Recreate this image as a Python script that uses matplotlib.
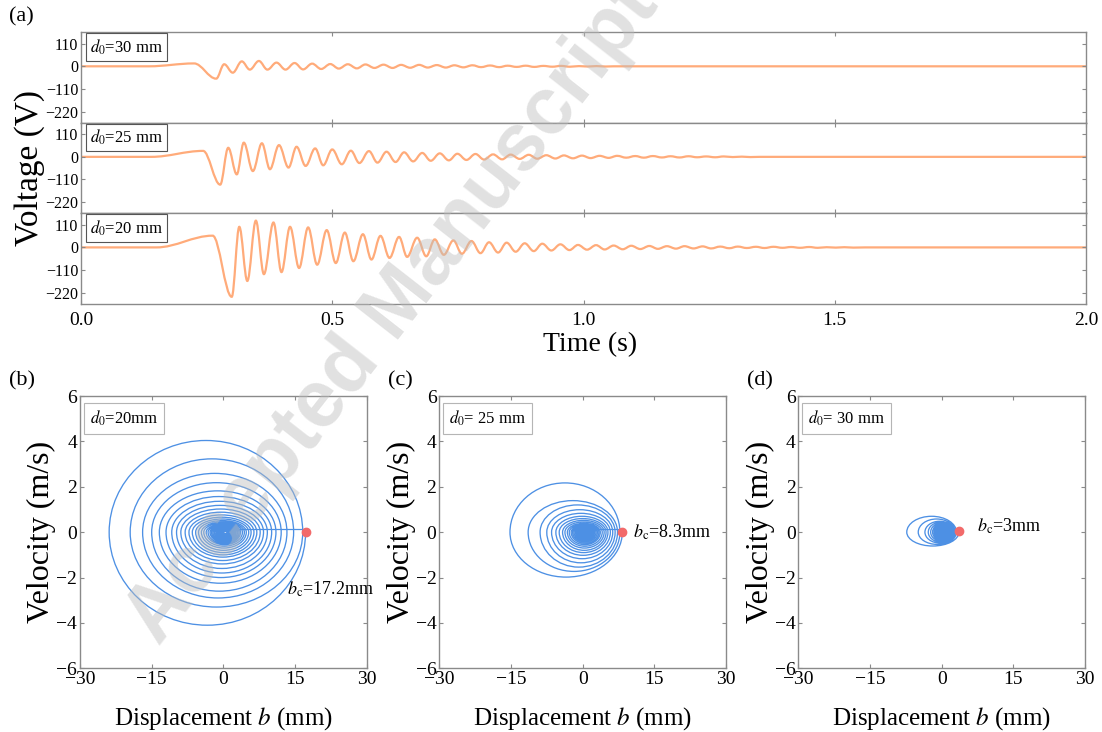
import matplotlib
matplotlib.use('Agg')
import matplotlib.pyplot as plt
from matplotlib.path import Path
from matplotlib.patches import PathPatch

plt.rcParams['font.family'] = 'Liberation Serif'
plt.rcParams['mathtext.fontset'] = 'stix'

# ---- (a) voltage extrema: time (s), voltage (V) ----
t30 = [0.0, 0.135, 0.225, 0.269, 0.285, 0.302, 0.320, 0.336, 0.354, 0.371, 0.389, 0.407,
       0.425, 0.442, 0.460, 0.478, 0.496, 0.513, 0.531, 0.549, 0.566, 0.584, 0.602, 0.620,
       0.637, 0.655, 0.673, 0.690, 0.708, 0.726, 0.743, 0.761, 0.779, 0.796, 0.814, 0.832,
       0.849, 0.867, 0.885, 0.902, 0.920, 0.938, 0.955, 0.973, 0.991, 1.008, 1.026, 1.044,
       1.060, 2.0]
v30 = [0, 0, 14, -60, 10, -31, 24, -16, 26, -16, 18, -16,
       16, -15, 13, -13, 11, -11, 10, -10, 9, -8, 8, -8,
       7, -7, 7, -6, 6, -6, 5, -5, 5, -4, 4, -4,
       3, -3, 3, -3, 2, -2, 2, -2, 1, -1, 1, -1,
       0, 0]

t25 = [0.0, 0.140, 0.243, 0.277, 0.293, 0.310, 0.324, 0.342, 0.360, 0.376, 0.394, 0.413,
       0.429, 0.447, 0.466, 0.482, 0.500, 0.519, 0.537, 0.554, 0.573, 0.590, 0.608, 0.626,
       0.643, 0.661, 0.679, 0.696, 0.714, 0.732, 0.749, 0.767, 0.785, 0.802, 0.820, 0.838,
       0.855, 0.873, 0.891, 0.908, 0.926, 0.944, 0.961, 0.979, 0.997, 1.014, 1.032, 1.050,
       1.067, 1.085, 1.103, 1.120, 1.138, 1.156, 1.173, 1.191, 1.209, 1.226, 1.244, 1.262,
       1.279, 1.297, 1.315, 1.332, 1.350, 2.0]
v25 = [0, 0, 29, -135, 44, -85, 69, -69, 66, -60, 57, -52,
       49, -44, 41, -41, 36, -36, 30, -30, 28, -28, 25, -25,
       22, -22, 19, -19, 17, -17, 15, -15, 14, -13, 12, -12,
       11, -10, 10, -9, 8, -8, 7, -7, 6, -6, 5, -5,
       5, -4, 4, -4, 4, -3, 3, -3, 3, -2, 2, -2,
       2, -1, 1, -1, 0, 0]

t20 = [0.0, 0.150, 0.262, 0.300, 0.315, 0.331, 0.348, 0.364, 0.383, 0.399, 0.416, 0.434,
       0.452, 0.470, 0.489, 0.507, 0.525, 0.542, 0.561, 0.578, 0.596, 0.614, 0.633, 0.649,
       0.669, 0.687, 0.704, 0.722, 0.741, 0.758, 0.777, 0.795, 0.812, 0.830, 0.847, 0.865,
       0.883, 0.901, 0.918, 0.936, 0.954, 0.972, 0.989, 1.007, 1.025, 1.042, 1.060, 1.078,
       1.095, 1.113, 1.131, 1.148, 1.166, 1.184, 1.201, 1.219, 1.237, 1.254, 1.272, 1.290,
       1.307, 1.325, 1.343, 1.360, 1.378, 1.396, 1.413, 1.431, 1.449, 1.466, 1.484, 1.502,
       1.519, 1.537, 1.560, 2.0]
v20 = [0, 0, 57, -240, 100, -163, 130, -130, 121, -120, 100, -100,
       97, -84, 84, -76, 72, -67, 64, -59, 56, -51, 51, -46,
       47, -43, 39, -36, 34, -31, 31, -28, 25, -25, 23, -21,
       20, -18, 18, -15, 15, -13, 12, -11, 11, -10, 9, -9,
       8, -8, 7, -7, 6, -6, 6, -5, 5, -5, 4, -4,
       4, -3, 3, -3, 3, -2, 2, -2, 2, -2, 1, -1,
       1, -1, 0, 0]

wave_labels = ['$d_0$=30 mm', '$d_0$=25 mm', '$d_0$=20 mm']
volt_ticks = [110, 0, -110, -220]
time_ticks = [0.0, 0.5, 1.0, 1.5, 2.0]

# ---- (b)-(d) phase portraits: turning points of each loop ----
# R: right turning points b (mm), B: lowest velocity, L: left turning point, T: top velocity
R20 = [17.2, 16.6, 14.7, 13.3, 12.1, 11.0, 10.1, 9.2, 8.4, 7.7, 7.0, 6.4, 5.8, 5.3, 4.8,
       4.4, 4.0, 3.6, 3.3, 3.0, 2.7, 2.5, 2.3, 2.1, 1.9, 1.8, 1.6, 1.5, 1.3, 1.1, 0.9, 0.8]
B20 = [-4.1, -3.3, -2.9, -2.6, -2.25, -2.0, -1.8, -1.6, -1.4, -1.25, -1.1, -1.0, -0.9, -0.8,
       -0.7, -0.62, -0.55, -0.5, -0.45, -0.4, -0.36, -0.32, -0.29, -0.26, -0.23, -0.2, -0.18,
       -0.15, -0.12, -0.09, -0.06]
L20 = [-23.9, -19.5, -16.9, -15.0, -13.4, -12.0, -10.8, -9.8, -8.9, -8.0, -7.2, -6.5, -5.8,
       -5.2, -4.6, -4.1, -3.6, -3.2, -2.8, -2.5, -2.2, -1.9, -1.6, -1.4, -1.2, -1.0, -0.8,
       -0.6, -0.4, -0.2, 0.0]
T20 = [4.04, 3.23, 2.59, 2.18, 1.82, 1.57, 1.36, 1.18, 1.02, 0.88, 0.76, 0.66, 0.58, 0.51,
       0.45, 0.40, 0.35, 0.31, 0.28, 0.25, 0.22, 0.2, 0.18, 0.16, 0.14, 0.12, 0.1,
       0.08, 0.06, 0.04, 0.03]

R25 = [8.3, 7.8, 7.3, 6.8, 6.3, 5.8, 5.3, 4.9, 4.5, 4.1, 3.7, 3.4, 3.1, 2.8, 2.5, 2.3,
       2.1, 1.9, 1.7, 1.5, 1.3, 1.2, 1.1, 1.0, 0.9, 0.8, 0.7, 0.6]
B25 = [-1.98, -1.73, -1.54, -1.35, -1.17, -1.02, -0.9, -0.8, -0.7, -0.62, -0.55, -0.49,
       -0.43, -0.38, -0.34, -0.3, -0.26, -0.23, -0.2, -0.18, -0.16, -0.14, -0.12,
       -0.1, -0.08, -0.06, -0.04]
L25 = [-15.2, -11.4, -8.9, -7.5, -6.5, -5.6, -4.9, -4.2, -3.7, -3.2, -2.8, -2.4, -2.1,
       -1.8, -1.5, -1.3, -1.1, -0.9, -0.7, -0.6, -0.5, -0.4, -0.3, -0.2, -0.1, 0.0, 0.1]
T25 = [2.17, 1.39, 1.2, 0.99, 0.83, 0.70, 0.60, 0.52, 0.45, 0.39, 0.34, 0.3, 0.26, 0.23,
       0.2, 0.18, 0.16, 0.14, 0.12, 0.11, 0.1, 0.09, 0.08, 0.07, 0.05, 0.04, 0.03]

R30 = [3.6, 3.1, 2.8, 2.6, 2.4, 2.2, 2.0, 1.9, 1.8, 1.7, 1.6, 1.5, 1.4, 1.3, 1.2, 1.1, 1.0,
       0.9, 0.8, 0.7, 0.6, 0.5]
B30 = [-0.61, -0.54, -0.48, -0.44, -0.4, -0.37, -0.34, -0.31, -0.28, -0.26, -0.24, -0.22,
       -0.2, -0.18, -0.16, -0.14, -0.12, -0.1, -0.08, -0.06, -0.04]
L30 = [-7.3, -4.9, -3.5, -2.8, -2.3, -1.9, -1.6, -1.4, -1.2, -1.0, -0.9, -0.8, -0.7, -0.6,
       -0.5, -0.4, -0.3, -0.2, -0.1, 0.0, 0.1]
T30 = [0.7, 0.58, 0.48, 0.44, 0.4, 0.37, 0.34, 0.31, 0.28, 0.26, 0.24, 0.22, 0.2, 0.18,
       0.16, 0.14, 0.12, 0.1, 0.08, 0.06, 0.04]

# straight pull-out before release, and release point b_c
app20_b, app20_v = [0.9, 17.2], [0.13, 0.13]
app25_b, app25_v = [1.0, 8.3], [0.15, 0.15]
app30_b, app30_v = [1.0, 3.6], [0.08, 0.08]
bc_b = [17.2, 8.3, 3.6]
bc_v = [0.0, 0.0, 0.05]
phase_labels = ['$d_0$=20mm', '$d_0$= 25 mm', '$d_0$= 30 mm']
bc_labels = ['$b_\\mathrm{c}$=17.2mm', '$b_\\mathrm{c}$=8.3mm', '$b_\\mathrm{c}$=3mm']
bc_text_pos = [(13.3, -2.5), (10.6, 0.0), (7.3, 0.25)]
disp_ticks = [-30, -15, 0, 15, 30]
vel_ticks = [-6, -4, -2, 0, 2, 4, 6]

ORANGE = '#ffab7a'
BLUE = '#4d90e4'
RED = '#f26a6a'
SPINE = '#8a8a8a'


def wave_path(t, v, c=0.36):
    # smooth half-waves between successive extrema
    verts = [(t[0], v[0])]
    codes = [Path.MOVETO]
    for i in range(len(t) - 1):
        dt = t[i + 1] - t[i]
        verts += [(t[i] + c * dt, v[i]), (t[i + 1] - c * dt, v[i + 1]), (t[i + 1], v[i + 1])]
        codes += [Path.CURVE4] * 3
    return Path(verts, codes)


def spiral_path(R, B, L, T, k=0.5523):
    # clockwise loops: right -> bottom -> left -> top -> next right
    verts = [(R[0], 0.0)]
    codes = [Path.MOVETO]
    for i in range(len(B)):
        xb = (R[i] + L[i]) / 2
        xt = (L[i] + R[i + 1]) / 2
        verts += [(R[i], k * B[i]), (xb + k * (R[i] - xb), B[i]), (xb, B[i])]
        verts += [(xb + k * (L[i] - xb), B[i]), (L[i], k * B[i]), (L[i], 0.0)]
        verts += [(L[i], k * T[i]), (xt + k * (L[i] - xt), T[i]), (xt, T[i])]
        verts += [(xt + k * (R[i + 1] - xt), T[i]), (R[i + 1], k * T[i]), (R[i + 1], 0.0)]
        codes += [Path.CURVE4] * 12
    return Path(verts, codes)


def style_axes(ax):
    for s in ax.spines.values():
        s.set_color(SPINE)
        s.set_linewidth(1.0)
    ax.tick_params(direction='in', length=3, width=0.8, color=SPINE,
                   top=True, right=True)


fig = plt.figure(figsize=(11.02, 7.32), dpi=100)

# ---- (a) three stacked voltage traces ----
waves = [(t30, v30), (t25, v25), (t20, v20)]
bottoms = [0.8321, 0.7084, 0.5847]
for i, (tt, vv) in enumerate(waves):
    ax = fig.add_axes([0.0735, bottoms[i], 0.912, 0.1237])
    ax.add_patch(PathPatch(wave_path(tt, vv), facecolor='none', edgecolor=ORANGE, lw=1.6))
    ax.set_xlim(0, 2.0)
    ax.set_ylim(-275, 165)
    ax.set_yticks(volt_ticks)
    ax.set_xticks(time_ticks)
    style_axes(ax)
    ax.tick_params(axis='y', labelsize=11.5, pad=2)
    ax.tick_params(axis='x', labelsize=14, pad=6)
    if i < 2:
        ax.tick_params(labelbottom=False)
    else:
        ax.set_xticklabels(['%.1f' % x for x in time_ticks])
    ax.text(0.009, 0.84, wave_labels[i], transform=ax.transAxes, fontsize=12,
            va='center', ha='left',
            bbox=dict(boxstyle='square,pad=0.25', facecolor='white', edgecolor='#555555', lw=0.8))

fig.text(30 / 1102, 1 - 168 / 732, 'Voltage (V)', rotation=90, fontsize=24,
         ha='center', va='center')
fig.text(590 / 1102, 1 - 345 / 732, 'Time (s)', fontsize=20, ha='center', va='center')

# ---- (b)-(d) phase portraits ----
spirals = [(R20, B20, L20, T20), (R25, B25, L25, T25), (R30, B30, L30, T30)]
approaches = [(app20_b, app20_v), (app25_b, app25_v), (app30_b, app30_v)]
lefts = [0.0726, 0.3986, 0.7244]
for i in range(3):
    ax = fig.add_axes([lefts[i], 0.087, 0.2602, 0.372])
    ax.add_patch(PathPatch(spiral_path(*spirals[i]), facecolor='none', edgecolor=BLUE, lw=0.95))
    ax.plot(approaches[i][0], approaches[i][1], color=BLUE, lw=0.9)
    ax.plot(bc_b[i], bc_v[i], 'o', color=RED, ms=6, zorder=5)
    ax.text(bc_text_pos[i][0], bc_text_pos[i][1], bc_labels[i], fontsize=13,
            ha='left', va='center')
    ax.set_xlim(-30, 30)
    ax.set_ylim(-6, 6)
    ax.set_xticks(disp_ticks)
    ax.set_yticks(vel_ticks)
    style_axes(ax)
    ax.tick_params(labelsize=14, pad=2)
    ax.set_xlabel('Displacement $b$ (mm)', fontsize=18, labelpad=12)
    ax.set_ylabel('Velocity (m/s)', fontsize=23, labelpad=0)
    ax.text(0.035, 0.917, phase_labels[i], transform=ax.transAxes, fontsize=12,
            va='center', ha='left',
            bbox=dict(boxstyle='square,pad=0.35', facecolor='white', edgecolor='#b5b5b5', lw=0.8))

fig.text(0.008, 0.977, '(a)', fontsize=16, ha='left', va='center')
fig.text(0.008, 0.4795, '(b)', fontsize=16, ha='left', va='center')
fig.text(388 / 1102, 0.4795, '(c)', fontsize=16, ha='left', va='center')
fig.text(747 / 1102, 0.4795, '(d)', fontsize=16, ha='left', va='center')

# journal watermark
fig.text(0.356, 0.572, 'Accepted Manuscript', fontsize=58, fontweight='bold',
         family='Liberation Sans', color='#bdbdbd', alpha=0.45, rotation=52,
         ha='center', va='center', zorder=10)

fig.savefig('out.png', dpi=100)
